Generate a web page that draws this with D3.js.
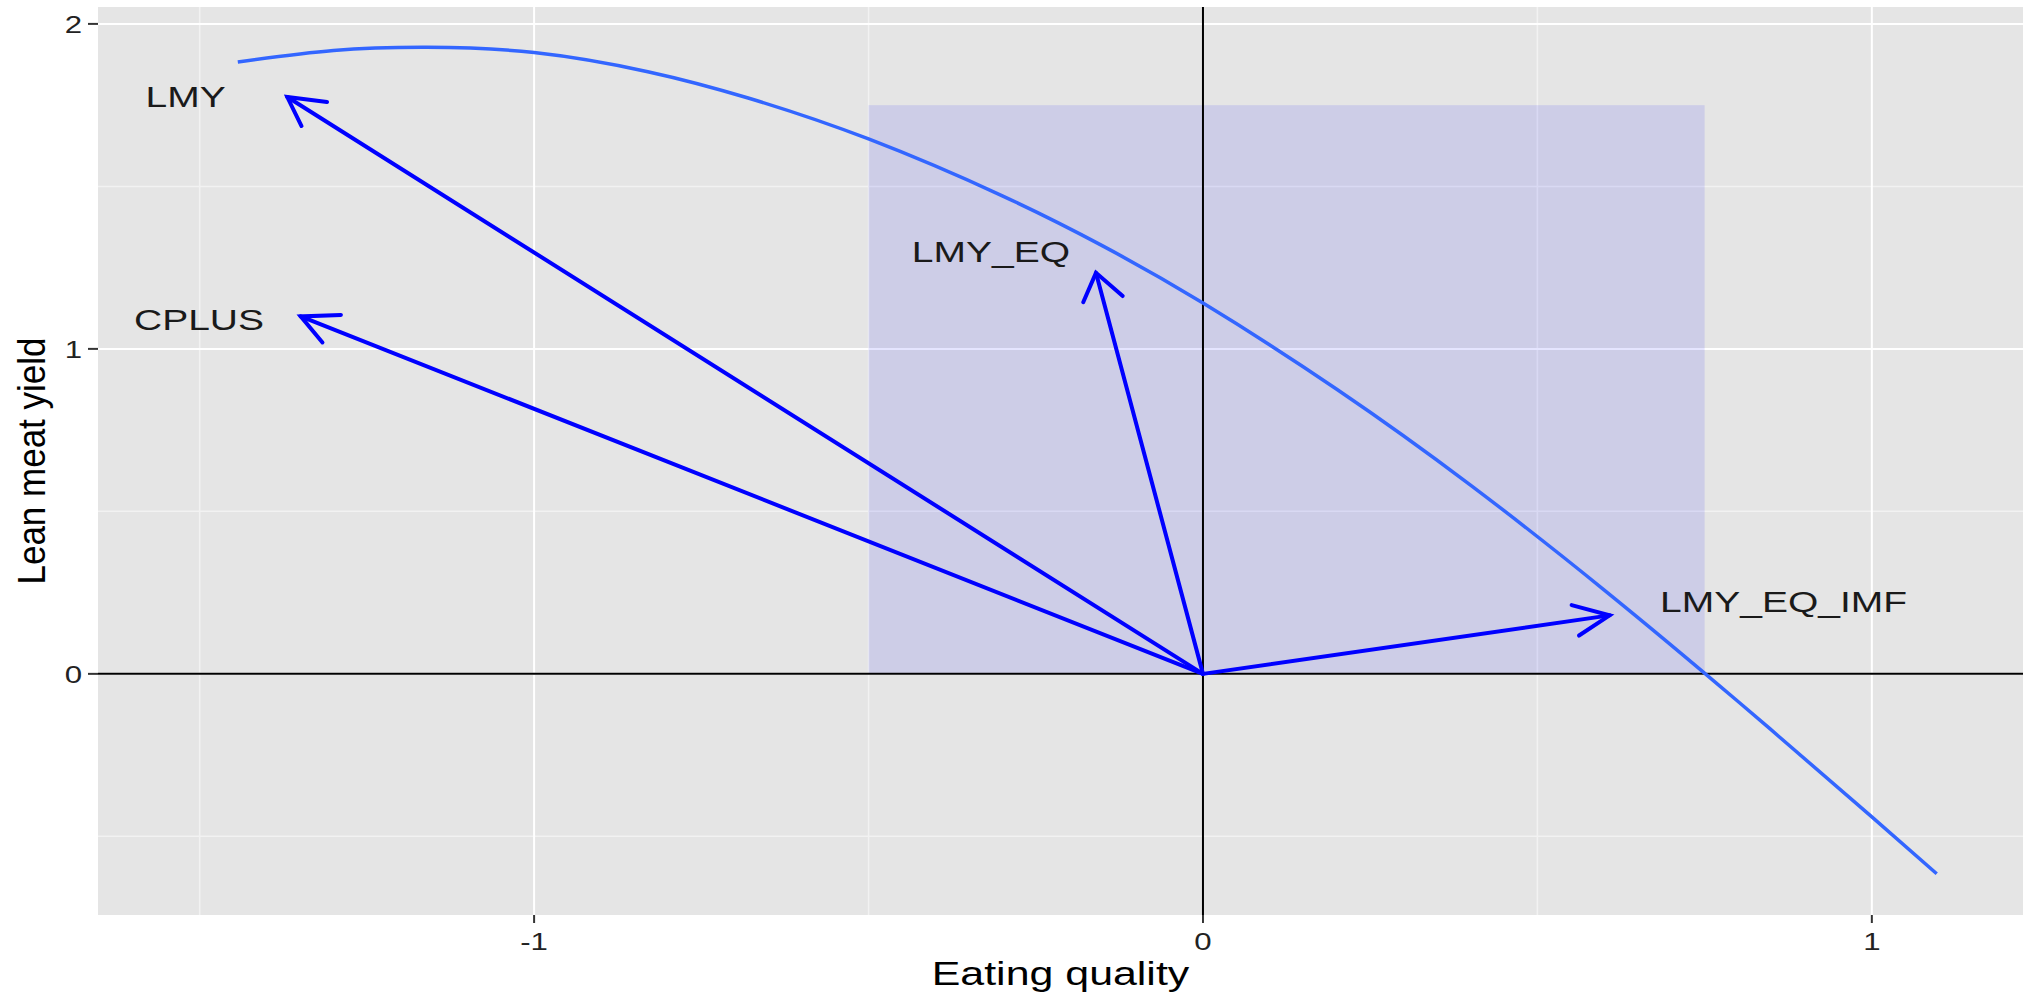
<!DOCTYPE html>
<html><head><meta charset="utf-8">
<script src="https://cdn.jsdelivr.net/npm/d3@7"></script>
<style>body{margin:0;background:#fff;overflow:hidden} text{font-family:"Liberation Sans",Arial,sans-serif}</style>
</head><body><svg id="c" width="2023" height="996"></svg>
<script>
// ---- data ----
const xTicks = [-1, 0, 1];
const yTicks = [0, 1, 2];
const xMinor = [-1.5, -0.5, 0.5];
const yMinor = [-0.5, 0.5, 1.5];
const traits = ["LMY", "CPLUS", "LMY_EQ", "LMY_EQ_IMF"];
const arrowX = [-1.369, -1.349, -0.160, 0.608];
const arrowY = [1.775, 1.10, 1.234, 0.18];
const labelX = [-1.521, -1.501, -0.317, 0.868];
const labelY = [1.777, 1.092, 1.30, 0.223];
const curveX = [-1.443, -1.3, -1.16, -1.0, -0.83, -0.68, -0.5, -0.3, -0.15, 0, 0.2, 0.4, 0.6, 0.8, 1.0, 1.097];
const curveY = [1.883, 1.918, 1.928, 1.912, 1.853, 1.772, 1.646, 1.471, 1.317, 1.141, 0.876, 0.581, 0.258, -0.085, -0.44, -0.615];
const rectX = [-0.5, 0.75];
const rectY = [0, 1.75];
const xTitle = "Eating quality";
const yTitle = "Lean meat yield";

// ---- layout ----
const L = 98, R = 2023, T = 7, B = 915;
const SX = 1.3; // horizontal stretch of glyphs
const svg = d3.select("#c");
const x = d3.scaleLinear().domain([-1.652, 1.226]).range([L, R]);
const y = d3.scaleLinear().domain([-0.742, 2.052]).range([B, T]);

svg.append("rect").attr("x", L).attr("y", T).attr("width", R - L).attr("height", B - T).attr("fill", "#E5E5E5");

const grid = svg.append("g");
grid.selectAll(".vm").data(xMinor).join("line").attr("x1", d => x(d)).attr("x2", d => x(d)).attr("y1", T).attr("y2", B).attr("stroke", "#F2F2F2").attr("stroke-width", 1.5);
grid.selectAll(".hm").data(yMinor).join("line").attr("y1", d => y(d)).attr("y2", d => y(d)).attr("x1", L).attr("x2", R).attr("stroke", "#F2F2F2").attr("stroke-width", 1.5);
grid.selectAll(".vM").data(xTicks).join("line").attr("x1", d => x(d)).attr("x2", d => x(d)).attr("y1", T).attr("y2", B).attr("stroke", "#FFFFFF").attr("stroke-width", 2);
grid.selectAll(".hM").data(yTicks).join("line").attr("y1", d => y(d)).attr("y2", d => y(d)).attr("x1", L).attr("x2", R).attr("stroke", "#FFFFFF").attr("stroke-width", 2);

// shaded rectangle
svg.append("rect").attr("x", x(rectX[0])).attr("y", y(rectY[1]))
  .attr("width", x(rectX[1]) - x(rectX[0])).attr("height", y(rectY[0]) - y(rectY[1]))
  .attr("fill", "#0000FF").attr("fill-opacity", 0.1);

// zero lines
svg.append("line").attr("x1", x(0)).attr("x2", x(0)).attr("y1", T).attr("y2", B).attr("stroke", "#000").attr("stroke-width", 2);
svg.append("line").attr("y1", y(0)).attr("y2", y(0)).attr("x1", L).attr("x2", R).attr("stroke", "#000").attr("stroke-width", 2);

// curve
const pts = curveX.map((d, i) => [d, curveY[i]]);
svg.append("path").attr("d", d3.line().x(d => x(d[0])).y(d => y(d[1])).curve(d3.curveNatural)(pts))
  .attr("fill", "none").attr("stroke", "#3366FF").attr("stroke-width", 3.5);

// arrows
const ag = svg.append("g").attr("stroke", "#0000FF").attr("stroke-width", 4).attr("fill", "none").attr("stroke-linecap", "round");
traits.forEach((t, i) => {
  const ox = x(0), oy = y(0), tx = x(arrowX[i]), ty = y(arrowY[i]);
  ag.append("line").attr("x1", ox).attr("y1", oy).attr("x2", tx).attr("y2", ty);
  let dx = (ox - tx) / SX, dy = oy - ty;
  const len = Math.hypot(dx, dy); dx /= len; dy /= len;
  const a = Math.PI / 6, hl = 31;
  const b = [a, -a].map(th => {
    const rx = dx * Math.cos(th) - dy * Math.sin(th);
    const ry = dx * Math.sin(th) + dy * Math.cos(th);
    return [tx + rx * hl * SX, ty + ry * hl];
  });
  ag.append("path").attr("d", `M${b[0][0]},${b[0][1]}L${tx},${ty}L${b[1][0]},${b[1][1]}`).attr("stroke-linejoin", "miter");
});

// labels
traits.forEach((t, i) => {
  svg.append("g").attr("transform", `translate(${x(labelX[i])},${y(labelY[i])})`)
    .append("text").attr("transform", `scale(${SX},1)`).attr("text-anchor", "middle").attr("dy", "0.36em")
    .attr("font-size", 30).attr("fill", "#1a1a1a").text(t);
});

// axes ticks
const axg = svg.append("g");
xTicks.forEach(d => {
  axg.append("line").attr("x1", x(d)).attr("x2", x(d)).attr("y1", B).attr("y2", B + 8).attr("stroke", "#333").attr("stroke-width", 2);
  axg.append("g").attr("transform", `translate(${x(d)},${950})`).append("text").attr("transform", `scale(${SX},1)`)
    .attr("text-anchor", "middle").attr("font-size", 24).attr("fill", "#222").text(String(d));
});
yTicks.forEach(d => {
  axg.append("line").attr("x1", L - 10).attr("x2", L).attr("y1", y(d)).attr("y2", y(d)).attr("stroke", "#333").attr("stroke-width", 2);
  axg.append("g").attr("transform", `translate(${82},${y(d)})`).append("text").attr("transform", `scale(${SX},1)`)
    .attr("text-anchor", "end").attr("dy", "0.36em").attr("font-size", 24).attr("fill", "#222").text(String(d));
});

// axis titles
svg.append("g").attr("transform", `translate(${(L + R) / 2},985)`).append("text").attr("transform", `scale(${SX},1)`)
  .attr("text-anchor", "middle").attr("font-size", 33).attr("fill", "#000").text(xTitle);
svg.append("g").attr("transform", `translate(45,${(T + B) / 2}) rotate(-90)`).append("text").attr("transform", `scale(1,1.1)`)
  .attr("text-anchor", "middle").attr("font-size", 35).attr("fill", "#000").text(yTitle);
</script></body></html>
